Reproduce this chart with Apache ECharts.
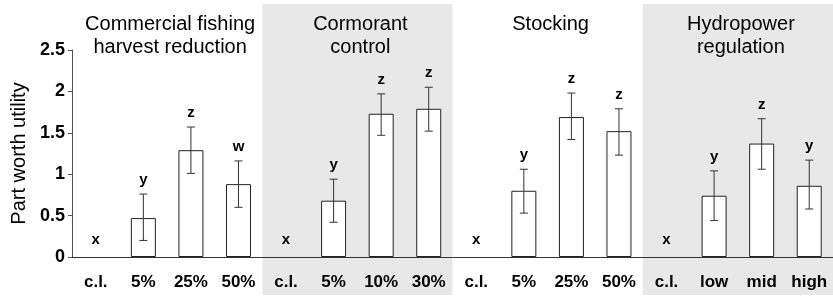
<!DOCTYPE html>
<html>
<head>
<meta charset="utf-8">
<script src="https://cdn.jsdelivr.net/npm/echarts@6/dist/echarts.min.js"></script>
<style>
html,body{margin:0;padding:0;background:#fff;}
#chart{width:833px;height:297px;}
</style>
</head>
<body>
<div id="chart"></div>
<script>
const categories = ['c.l.','5%','25%','50%','c.l.','5%','10%','30%','c.l.','5%','25%','50%','c.l.','low','mid','high'];
const values   = [0,0.47,1.29,0.88, 0,0.68,1.73,1.79, 0,0.80,1.69,1.52, 0,0.74,1.37,0.86];
const errUpper = [null,0.76,1.57,1.16, null,0.94,1.97,2.05, null,1.06,1.98,1.79, null,1.04,1.67,1.17];
const errLower = [null,0.20,1.01,0.60, null,0.42,1.47,1.52, null,0.53,1.42,1.23, null,0.44,1.06,0.58];
const letters  = ['x','y','z','w','x','y','z','z','x','y','z','z','x','y','z','y'];
const groupTitles = ['Commercial fishing\nharvest reduction','Cormorant\ncontrol','Stocking','Hydropower\nregulation'];
const groupStart = [0,4,8,12];
const groupEnd   = [3,7,11,15];
const groupShaded = [false,true,false,true];
const yTicks = [0,0.5,1,1.5,2,2.5];

const FONT = '"Liberation Sans", Arial, sans-serif';
const chart = echarts.init(document.getElementById('chart'), null, {renderer:'canvas'});

const option = {
  animation:false,
  backgroundColor:'#ffffff',
  grid:{left:72, right:0, top:50, bottom:40, containLabel:false},
  xAxis:{
    type:'category',
    data:categories,
    axisLine:{show:true, lineStyle:{color:'#333', width:1}},
    axisTick:{show:false},
    axisLabel:{color:'#000', fontFamily:FONT, fontWeight:'bold', fontSize:17, margin:17, interval:0}
  },
  yAxis:{
    type:'value',
    min:yTicks[0], max:yTicks[yTicks.length-1], interval:0.5,
    name:'Part worth utility',
    nameLocation:'middle',
    nameGap:40,
    nameTextStyle:{fontFamily:FONT, fontSize:20, color:'#000'},
    axisLine:{show:true, lineStyle:{color:'#555', width:1}},
    axisTick:{show:true, inside:false, length:4, lineStyle:{color:'#555'}},
    axisLabel:{color:'#000', fontFamily:FONT, fontWeight:'bold', fontSize:18, margin:7},
    splitLine:{show:false}
  },
  series:[
    {
      type:'custom',
      z:-1,
      silent:true,
      clip:false,
      data:groupTitles.map((t,i)=>[groupStart[i], groupEnd[i], i]),
      renderItem:function(params, api){
        const s = api.value(0), e = api.value(1), gi = api.value(2);
        const bw = api.size([1,0])[0];
        const x0 = api.coord([s,0])[0] - bw/2;
        const x1 = api.coord([e,0])[0] + bw/2;
        const children = [];
        if (groupShaded[gi]) {
          children.push({type:'rect', shape:{x:x0, y:4, width:x1-x0, height:291}, style:{fill:'#e8e8e8'}});
        }
        children.push({type:'text', style:{
          x:(x0+x1)/2 + 3, y:13, text:groupTitles[gi], textAlign:'center', textVerticalAlign:'top',
          font:'20px ' + FONT, fill:'#000', lineHeight:23
        }});
        return {type:'group', children:children};
      }
    },
    {
      type:'bar',
      data:values.map(v => v === 0 ? '-' : v),
      barWidth:25,
      itemStyle:{color:'#ffffff', borderColor:'#222', borderWidth:1},
      z:2
    },
    {
      type:'custom',
      z:3,
      silent:true,
      clip:false,
      data:categories.map((c,i)=>[i, values[i], errUpper[i] == null ? '-' : errUpper[i], errLower[i] == null ? '-' : errLower[i]]),
      renderItem:function(params, api){
        const i = api.value(0);
        const v = api.value(1);
        const up = errUpper[i], lo = errLower[i];
        const children = [];
        const cx = api.coord([i, 0])[0];
        let topY;
        if (up != null && lo != null) {
          const pu = api.coord([i, up])[1];
          const pl = api.coord([i, lo])[1];
          const st = {stroke:'#333', lineWidth:1};
          children.push({type:'line', shape:{x1:cx, y1:pu, x2:cx, y2:pl}, style:st});
          children.push({type:'line', shape:{x1:cx-4, y1:pu, x2:cx+4, y2:pu}, style:st});
          children.push({type:'line', shape:{x1:cx-4, y1:pl, x2:cx+4, y2:pl}, style:st});
          topY = pu - 14;
        } else {
          topY = api.coord([i, v])[1] - 17;
        }
        children.push({type:'text', style:{
          x:cx, y:topY, text:letters[i], textAlign:'center', textVerticalAlign:'middle',
          font:'bold 15px ' + FONT, fill:'#000'
        }});
        return {type:'group', children:children};
      }
    }
  ]
};
chart.setOption(option);
</script>
</body>
</html>
